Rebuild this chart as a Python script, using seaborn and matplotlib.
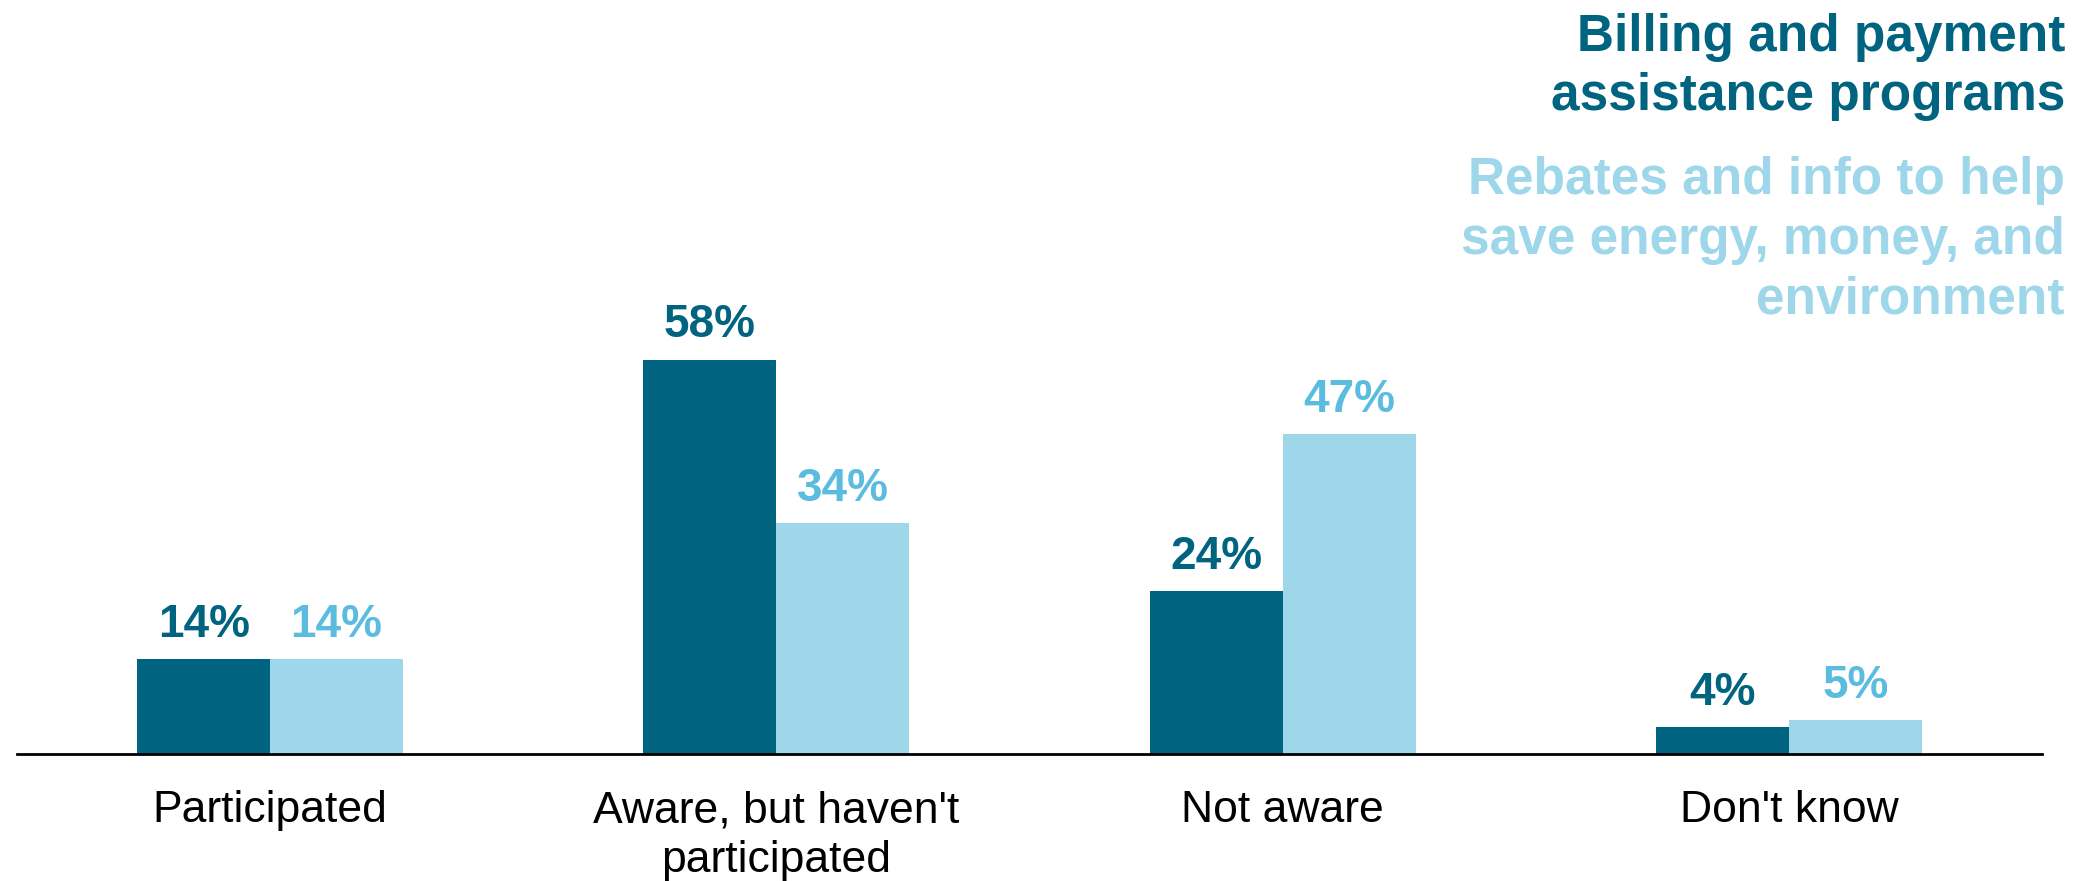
import matplotlib
matplotlib.use("Agg")
import matplotlib.pyplot as plt
import seaborn as sns
import pandas as pd

categories = ["Participated", "Aware, but haven't\nparticipated", "Not aware", "Don't know"]
series_names = ["Billing and payment\nassistance programs",
                "Rebates and info to help\nsave energy, money, and\nenvironment"]
billing = [14, 58, 24, 4]
rebates = [14, 34, 47, 5]

bar_colors = ["#00637F", "#9ED6EA"]
label_colors = ["#00637F", "#5BBCE0"]

sns.set_theme(style="white")
plt.rcParams["font.family"] = ["Liberation Sans", "DejaVu Sans"]

df = pd.DataFrame({
    "category": categories * 2,
    "series": [series_names[0]] * 4 + [series_names[1]] * 4,
    "value": billing + rebates,
})

W, H = 2086, 881
fig = plt.figure(figsize=(W / 100, H / 100), dpi=100)
ax = fig.add_axes([17 / W, (H - 754) / H, 2025 / W, 734 / H])

sns.barplot(data=df, x="category", y="value", hue="series", order=categories,
            hue_order=series_names, palette=bar_colors, width=0.525,
            saturation=1, legend=False, ax=ax, linewidth=0)

ax.set_xlim(-0.5, 3.5)
ax.set_ylim(0, 734 / 6.8)
ax.set_xlabel("")
ax.set_ylabel("")
ax.set_yticks([])
for s in ["top", "right", "left"]:
    ax.spines[s].set_visible(False)
ax.spines["bottom"].set_color("black")
ax.spines["bottom"].set_linewidth(2)
ax.tick_params(axis="x", length=0, pad=26, labelsize=32, labelcolor="black")
for t in ax.get_xticklabels():
    t.set_linespacing(1.27)

for container, col in zip(ax.containers, label_colors):
    for bar in container:
        h = bar.get_height()
        ax.annotate(f"{h:.0f}%", (bar.get_x() + bar.get_width() / 2, h),
                    xytext=(0, 16), textcoords="offset points",
                    ha="center", va="baseline", fontsize=33, fontweight="bold",
                    color=col)

# legend-like series titles, anchored at the baseline of their last line
fig.text(2065 / W, 1 - 110 / H, series_names[0], ha="right", va="baseline",
         fontsize=37, fontweight="bold", color=bar_colors[0], linespacing=1.27)
fig.text(2065 / W, 1 - 313 / H, series_names[1], ha="right", va="baseline",
         fontsize=37, fontweight="bold", color=bar_colors[1], linespacing=1.27)

fig.savefig("out.png", dpi=100)
